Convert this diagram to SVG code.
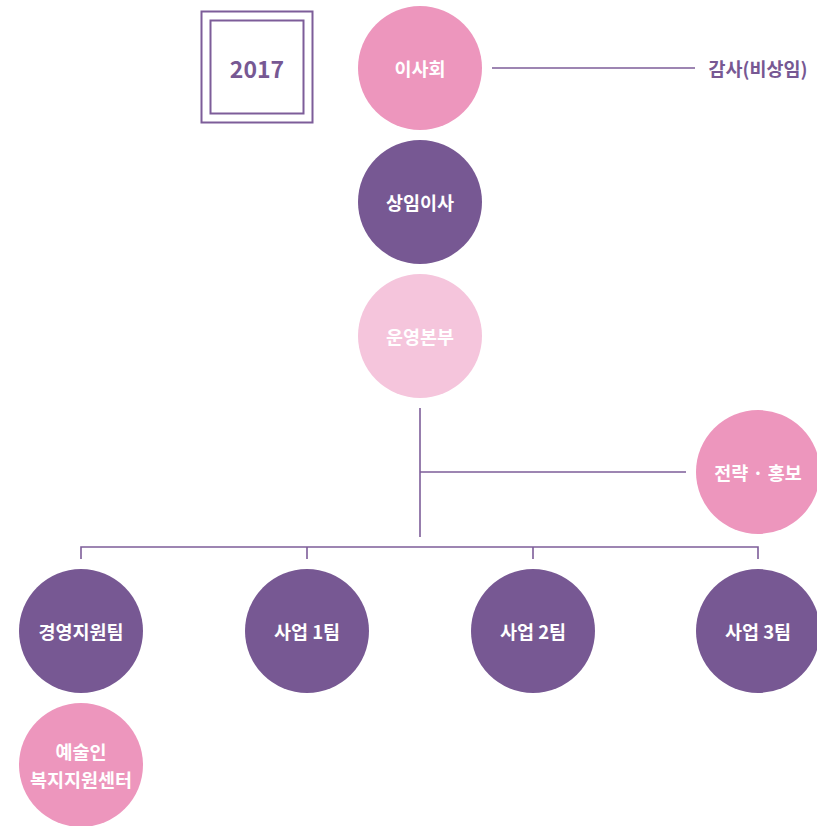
<svg xmlns="http://www.w3.org/2000/svg" width="817" height="826" viewBox="0 0 817 826">
<style>
.pk{fill:#ed96bd}
.pu{fill:#775893}
.lp{fill:#f5c5dc}
.t{font-family:"Noto Sans CJK KR","Noto Sans",sans-serif;font-weight:bold;font-size:18.5px;fill:#ffffff;text-anchor:middle;dominant-baseline:central}
.ln{stroke:#7d5d99;stroke-width:1.6;fill:none}
</style>
<rect width="817" height="826" fill="#ffffff"/>
<g id="year">
<rect x="201.5" y="11.5" width="111" height="111" fill="none" stroke="#7d5d99" stroke-width="2"/>
<rect x="210.5" y="20.5" width="93" height="93" fill="none" stroke="#7d5d99" stroke-width="2"/>
<text x="257" y="68" style="font-family:'Noto Sans CJK KR','Noto Sans',sans-serif;font-weight:bold;font-size:23px;fill:#775893;text-anchor:middle;dominant-baseline:central">2017</text>
</g>
<g id="connectors">
<line class="ln" x1="492" y1="68" x2="695" y2="68"/>
<line class="ln" x1="420" y1="408" x2="420" y2="537"/>
<line class="ln" x1="420" y1="472" x2="686" y2="472"/>
<path class="ln" d="M81 559 V547 H758 V559 M307 547 V559 M533 547 V559"/>
</g>
<g id="n-board"><circle class="pk" cx="420" cy="68" r="62"/><text class="t" x="420" y="68">이사회</text></g>
<g id="n-audit"><text x="758" y="68" style="font-family:'Noto Sans CJK KR','Noto Sans',sans-serif;font-weight:bold;font-size:18.5px;fill:#775893;text-anchor:middle;dominant-baseline:central">감사(비상임)</text></g>
<g id="n-exec"><circle class="pu" cx="420" cy="202" r="62"/><text class="t" x="420" y="202">상임이사</text></g>
<g id="n-ops"><circle class="lp" cx="420" cy="336" r="62"/><text class="t" x="420" y="336">운영본부</text></g>
<g id="n-strategy"><circle class="pk" cx="758" cy="472" r="62"/><text class="t" x="758" y="472">전략 · 홍보</text></g>
<g id="n-mgmt"><circle class="pu" cx="81" cy="631" r="62"/><text class="t" x="81" y="631">경영지원팀</text></g>
<g id="n-biz1"><circle class="pu" cx="307" cy="631" r="62"/><text class="t" x="307" y="631">사업 1팀</text></g>
<g id="n-biz2"><circle class="pu" cx="533" cy="631" r="62"/><text class="t" x="533" y="631">사업 2팀</text></g>
<g id="n-biz3"><circle class="pu" cx="758" cy="631" r="62"/><text class="t" x="758" y="631">사업 3팀</text></g>
<g id="n-welfare"><circle class="pk" cx="81" cy="765" r="62"/><text class="t" x="81" y="751">예술인</text><text class="t" x="81" y="779">복지지원센터</text></g>
</svg>
